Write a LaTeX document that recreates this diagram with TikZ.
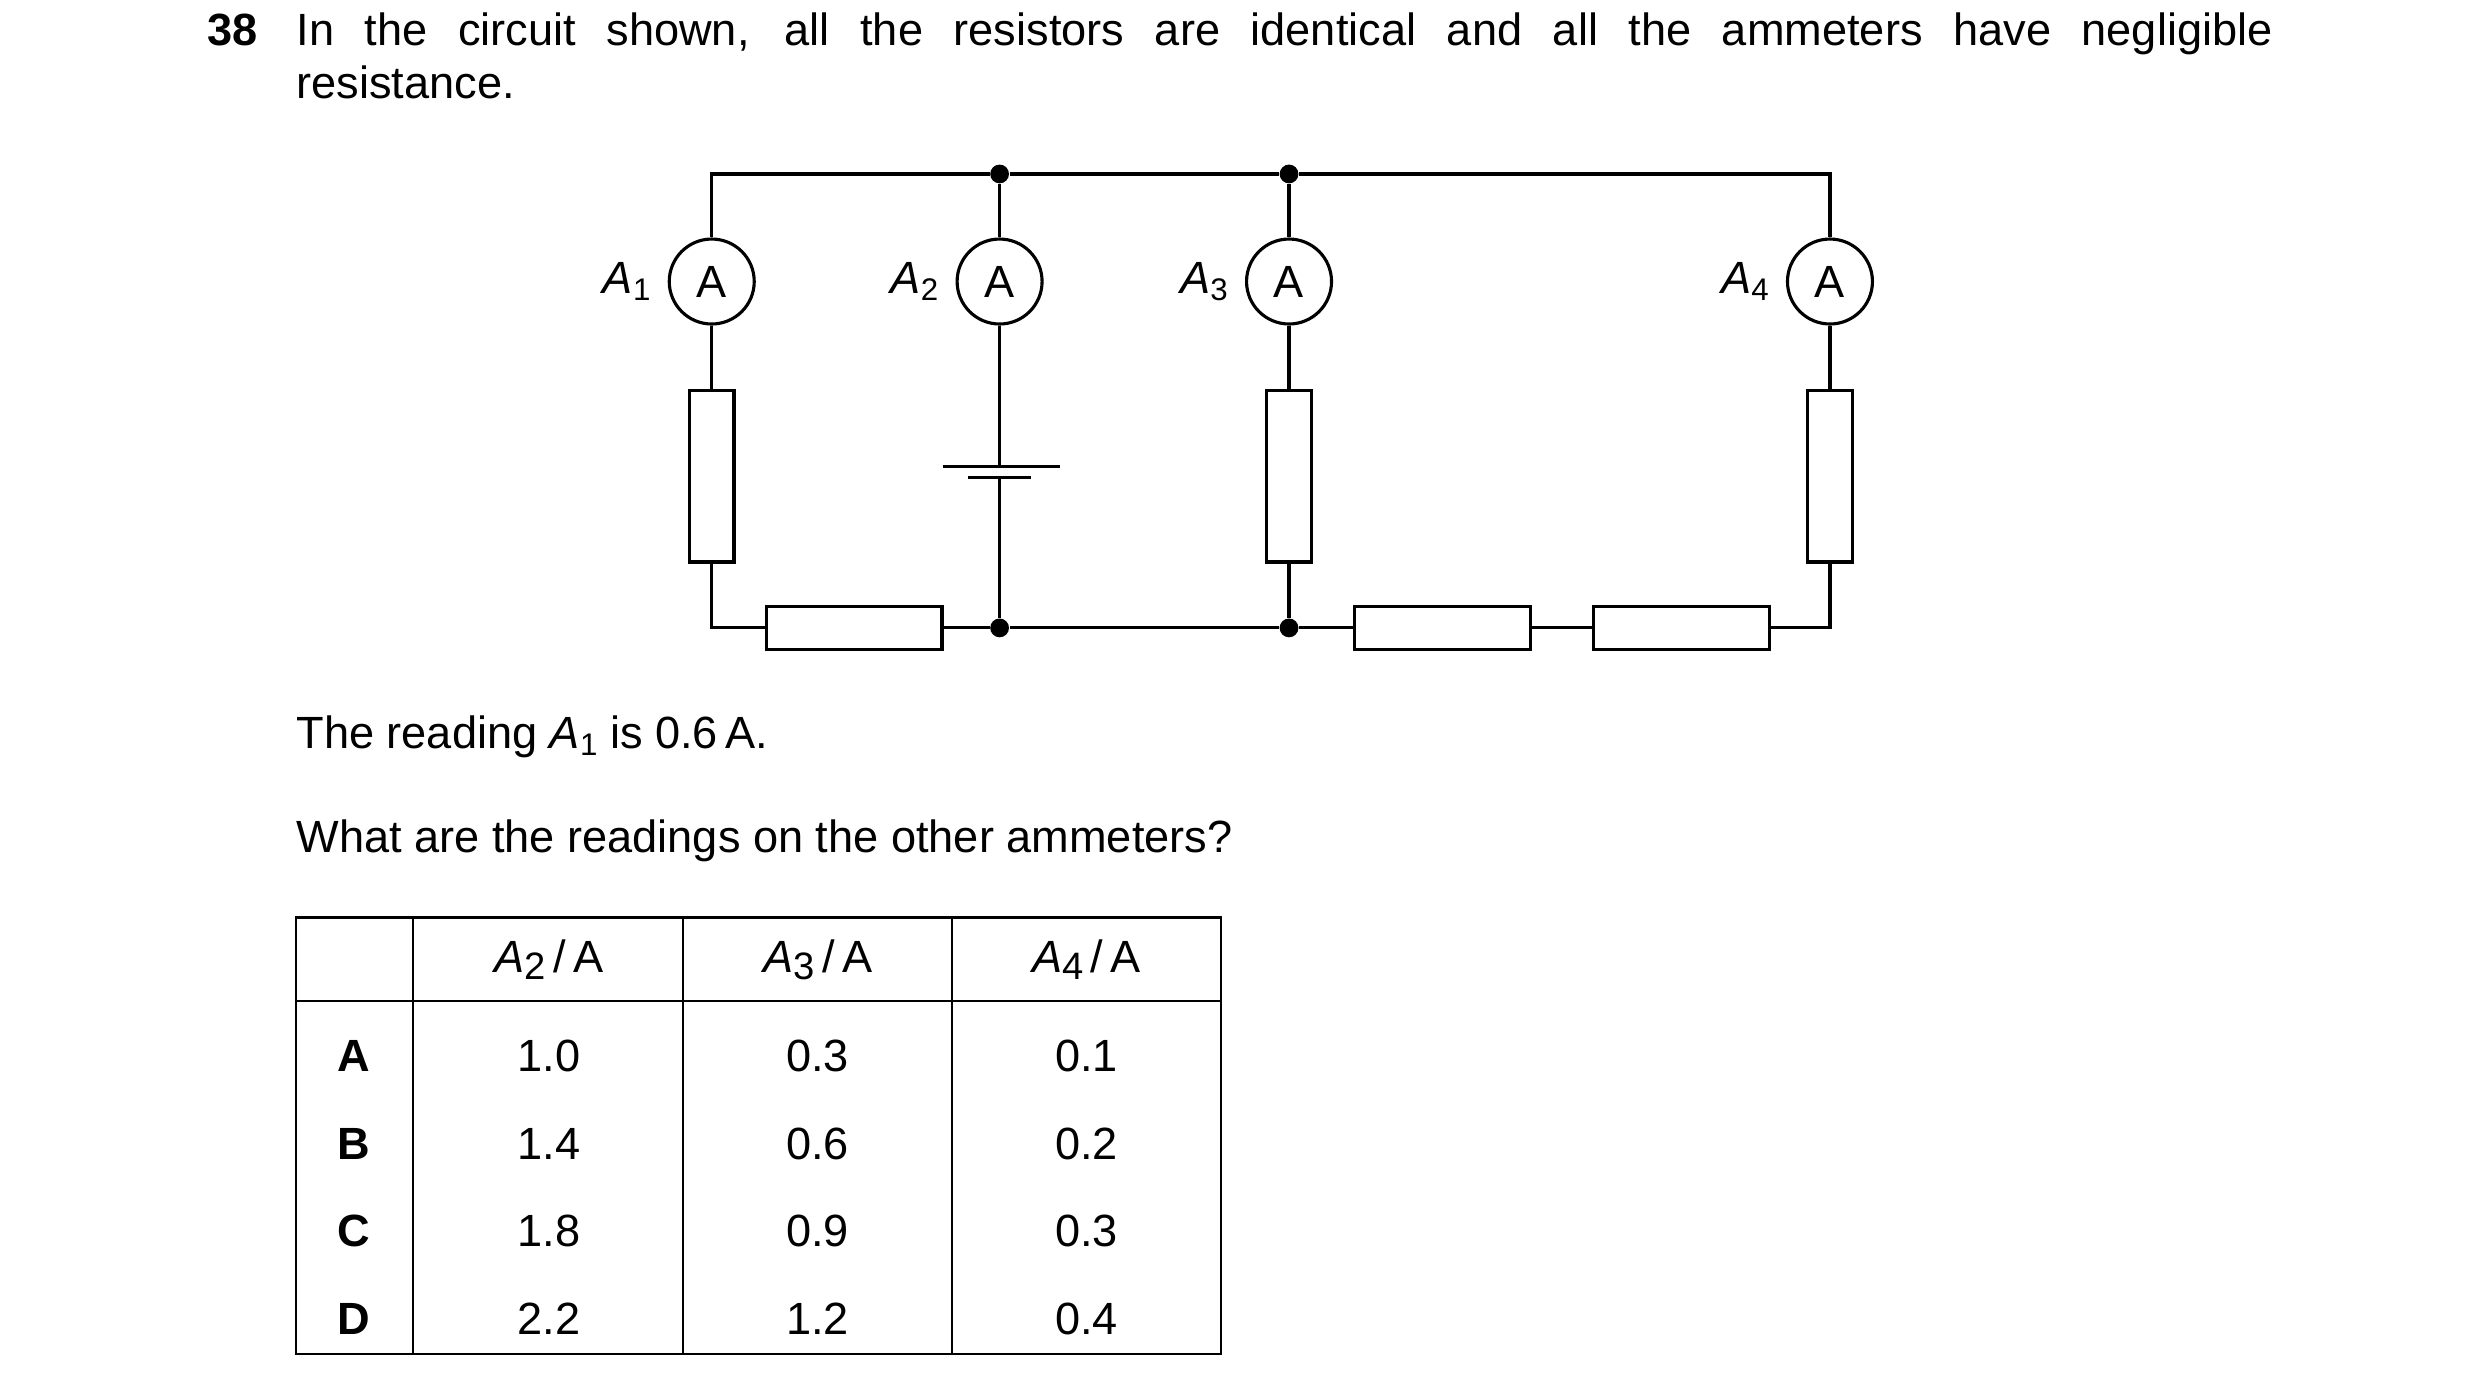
\documentclass[tikz,border=0pt]{standalone}
\usepackage{fontspec}
\setmainfont{Liberation Sans}
\usepackage{amsmath}
\usetikzlibrary{positioning}
\tikzset{w/.style={line width=0.9pt}}
\tikzset{amm/.style={draw, w, circle, minimum size=0.86cm, inner sep=0pt, font=\fontsize{13}{13}\selectfont}}
\tikzset{rv/.style={draw, w, rectangle, minimum width=0.45cm, minimum height=1.74cm, inner sep=0pt}}
\tikzset{rh/.style={draw, w, rectangle, minimum width=1.78cm, minimum height=0.43cm, inner sep=0pt}}
\tikzset{dot/.style={circle, fill, inner sep=0pt, minimum size=0.19cm}}
\tikzset{t/.style={font=\fontsize{13}{13}\selectfont}}
\newcommand{\amlab}[2][9]{\textit{A}\raisebox{-0.3ex}{\fontsize{#1}{#1}\selectfont #2}}
\begin{document}
\begin{tikzpicture}[x=0.016cm, y=-0.016cm]
  \useasboundingbox (0,0) rectangle (1568,882);
  % question text
  \node[t, anchor=base west, inner sep=0pt] (num) at (131,29) {\textbf{38}};
  \node[t, anchor=base west, inner sep=0pt] (q1) at (187,29)
    {\makebox[20cm][s]{In the circuit shown, all the resistors are identical and all the ammeters have negligible}};
  \node[t, anchor=base west, inner sep=0pt] (q2) at (187,62) {resistance.};
  % circuit
  \coordinate (tl) at (450,110);
  \coordinate (tr) at (1157,110);
  \node[dot] (j1) at (632,110) {};
  \node[dot] (j2) at (815,110) {};
  \node[dot] (j3) at (632,397) {};
  \node[dot] (j4) at (815,397) {};
  \node[amm] (m1) at (450,178) {A};
  \node[amm] (m2) at (632,178) {A};
  \node[amm] (m3) at (815,178) {A};
  \node[amm] (m4) at (1157,178) {A};
  \node[t, left=0.05cm of m1] {\amlab{1}};
  \node[t, left=0.05cm of m2] {\amlab{2}};
  \node[t, left=0.05cm of m3] {\amlab{3}};
  \node[t, left=0.05cm of m4] {\amlab{4}};
  \node[rv] (r1) at (450,301) {};
  \node[rv] (r3) at (815,301) {};
  \node[rv] (r4) at (1157,301) {};
  \node[rh] (r2) at (540,397) {};
  \node[rh] (r5) at (912,397) {};
  \node[rh] (r6) at (1063,397) {};
  \coordinate (bp) at (632,295);
  \coordinate (bn) at (632,302);
  \draw[w] (596,295) -- (670,295);
  \draw[w] (612,302) -- (652,302);
  \draw[w] (m1) -- (tl) -- (j1) -- (j2) -- (tr) -- (m4);
  \draw[w] (j1) -- (m2);
  \draw[w] (j2) -- (m3);
  \draw[w] (m1) -- (r1);
  \draw[w] (m3) -- (r3);
  \draw[w] (m4) -- (r4);
  \draw[w] (m2) -- (bp);
  \draw[w] (bn) -- (j3);
  \draw[w] (r1) |- (r2);
  \draw[w] (r2) -- (j3) -- (j4) -- (r5);
  \draw[w] (r5) -- (r6);
  \draw[w] (r6) -| (r4);
  \draw[w] (r3) -- (j4);
  % text below
  \node[t, anchor=base west, inner sep=0pt] (s1) at (187,473) {The reading \amlab{1} is 0.6\,A.};
  \node[t, anchor=base west, inner sep=0pt] (s2) at (187,539) {What are the readings on the other ammeters?};
  % table
  \draw[line width=0.7pt] (187,580) rectangle (772,856);
  \draw[line width=0.7pt] (187,633) -- (772,633);
  \foreach \x in {261,432,602} \draw[line width=0.7pt] (\x,580) -- (\x,856);
  \node[t] (h2) at (347,607) {\amlab[11]{2}\,/\,A};
  \node[t] (h3) at (517,607) {\amlab[11]{3}\,/\,A};
  \node[t] (h4) at (687,607) {\amlab[11]{4}\,/\,A};
  \foreach \l/\a/\b/\c [count=\i] in {A/1.0/0.3/0.1, B/1.4/0.6/0.2, C/1.8/0.9/0.3, D/2.2/1.2/0.4} {
    \node[t] (k\i) at (224,612+55.5*\i) {\textbf{\l}};
    \node[t] (a\i) at (347,612+55.5*\i) {\a};
    \node[t] (b\i) at (517,612+55.5*\i) {\b};
    \node[t] (c\i) at (687,612+55.5*\i) {\c};
  }
\end{tikzpicture}
\end{document}
